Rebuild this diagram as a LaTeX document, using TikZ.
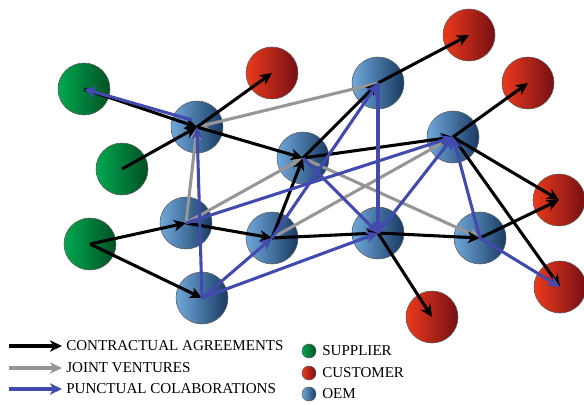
\documentclass[tikz,border=0pt]{standalone}
\usepackage{fontspec}
\setmainfont{Liberation Serif}
\usetikzlibrary{arrows.meta}
\definecolor{jvgray}{RGB}{150,150,150}
\definecolor{pcblue}{RGB}{66,74,174}
\tikzset{
  ball/.style={circle, draw=black!65, line width=0.4pt, minimum size=39pt, inner sep=0pt},
  supplier/.style={ball, left color={rgb,255:red,0;green,168;blue,80}, middle color={rgb,255:red,0;green,155;blue,72}, right color={rgb,255:red,0;green,80;blue,35}},
  customer/.style={ball, left color={rgb,255:red,235;green,58;blue,28}, middle color={rgb,255:red,218;green,40;blue,30}, right color={rgb,255:red,118;green,15;blue,20}},
  oem/.style={ball, left color={rgb,255:red,112;green,168;blue,218}, middle color={rgb,255:red,72;green,132;blue,194}, right color={rgb,255:red,24;green,58;blue,98}},
  contract/.style={line width=2.3pt, black, -{Stealth[length=9pt,width=8.5pt,inset=2.5pt]}},
  joint/.style={contract, jvgray},
  punct/.style={contract, pcblue},
  keyball/.style={minimum size=10.5pt},
  keytext/.style={anchor=west, inner sep=0pt, font=\fontsize{11.3}{12}\selectfont},
}
\begin{document}
\begin{tikzpicture}[x=0.75pt,y=-0.75pt]
  \useasboundingbox (0,0) rectangle (584,404);
  % suppliers
  \node[supplier] at (84,89) (s1) {};
  \node[supplier] at (122,169) (s2) {};
  \node[supplier] at (90,244) (s3) {};
  % customers
  \node[customer] at (272,73) (c1) {};
  \node[customer] at (469,35) (c2) {};
  \node[customer] at (528,83) (c3) {};
  \node[customer] at (559,200) (c4) {};
  \node[customer] at (560,287) (c5) {};
  \node[customer] at (432,317) (c6) {};
  % oems
  \node[oem] at (197,127) (o1) {};
  \node[oem] at (378,83) (o2) {};
  \node[oem] at (303,158) (o3) {};
  \node[oem] at (453,137) (o4) {};
  \node[oem] at (186,223) (o5) {};
  \node[oem] at (272,238) (o6) {};
  \node[oem] at (378,233) (o7) {};
  \node[oem] at (480,238) (o8) {};
  \node[oem] at (202,298) (o9) {};
  % joint ventures
  \draw[joint] (o2.center) -- (o1.center);
  \draw[joint] (o5.center) -- (o1.center);
  \draw[joint] (o5.center) -- (o3.center);
  \draw[joint] (o6.center) -- (o4.center);
  \draw[joint] (o3.center) -- (o8.center);
  % contractual agreements
  \draw[contract] (s1.center) -- (o1.center);
  \draw[contract] (s2.center) -- (o1.center);
  \draw[contract] (o1.center) -- (c1.center);
  \draw[contract] (o1.center) -- (o3.center);
  \draw[contract] (s3.center) -- (o5.center);
  \draw[contract] (s3.center) -- (o9.center);
  \draw[contract] (o5.center) -- (o6.center);
  \draw[contract] (o6.center) -- (o3.center);
  \draw[contract] (o3.center) -- (o2.center);
  \draw[contract] (o3.center) -- (o4.center);
  \draw[contract] (o2.center) -- (c2.center);
  \draw[contract] (o4.center) -- (c3.center);
  \draw[contract] (o4.center) -- (c4.center);
  \draw[contract] (o4.center) -- (c5.center);
  \draw[contract] (o6.center) -- (o7.center);
  \draw[contract] (o7.center) -- (o8.center);
  \draw[contract] (o7.center) -- (c6.center);
  \draw[contract] (o8.center) -- (c4.center);
  % punctual colaborations
  \draw[punct] ([shift={(-5,-7)}]o1.center) -- (s1.center);
  \draw[punct] (o9.center) -- (o1.center);
  \draw[punct] (o9.center) -- (o6.center);
  \draw[punct] (o9.center) -- (o7.center);
  \draw[punct] (o5.center) -- (o4.center);
  \draw[punct] (o6.center) -- (o2.center);
  \draw[punct] (o2.center) -- (o7.center);
  \draw[punct] (o3.center) -- (o7.center);
  \draw[punct] (o7.center) -- (o4.center);
  \draw[punct] (o8.center) -- (o4.center);
  \draw[punct] (o8.center) -- (c5.center);
  % legend
  \coordinate (k1) at (9,346);
  \coordinate (k2) at (9,368);
  \coordinate (k3) at (9,389);
  \node[keytext] at (66,346) (t1) {CONTRACTUAL AGREEMENTS};
  \node[keytext] at (66,368) (t2) {JOINT VENTURES};
  \node[keytext] at (66,389) (t3) {PUNCTUAL COLABORATIONS};
  \draw[contract] (k1) -- ([xshift=-3pt]t1.west);
  \draw[joint] (k2) -- ([xshift=-3pt]t2.west);
  \draw[punct] (k3) -- ([xshift=-3pt]t3.west);
  \node[supplier, keyball] at (309,351) (b1) {};
  \node[customer, keyball] at (309,373) (b2) {};
  \node[oem, keyball] at (309,394) (b3) {};
  \node[keytext] at (322,351) (u1) {SUPPLIER};
  \node[keytext] at (322,373) (u2) {CUSTOMER};
  \node[keytext] at (322,394) (u3) {OEM};
\end{tikzpicture}
\end{document}
